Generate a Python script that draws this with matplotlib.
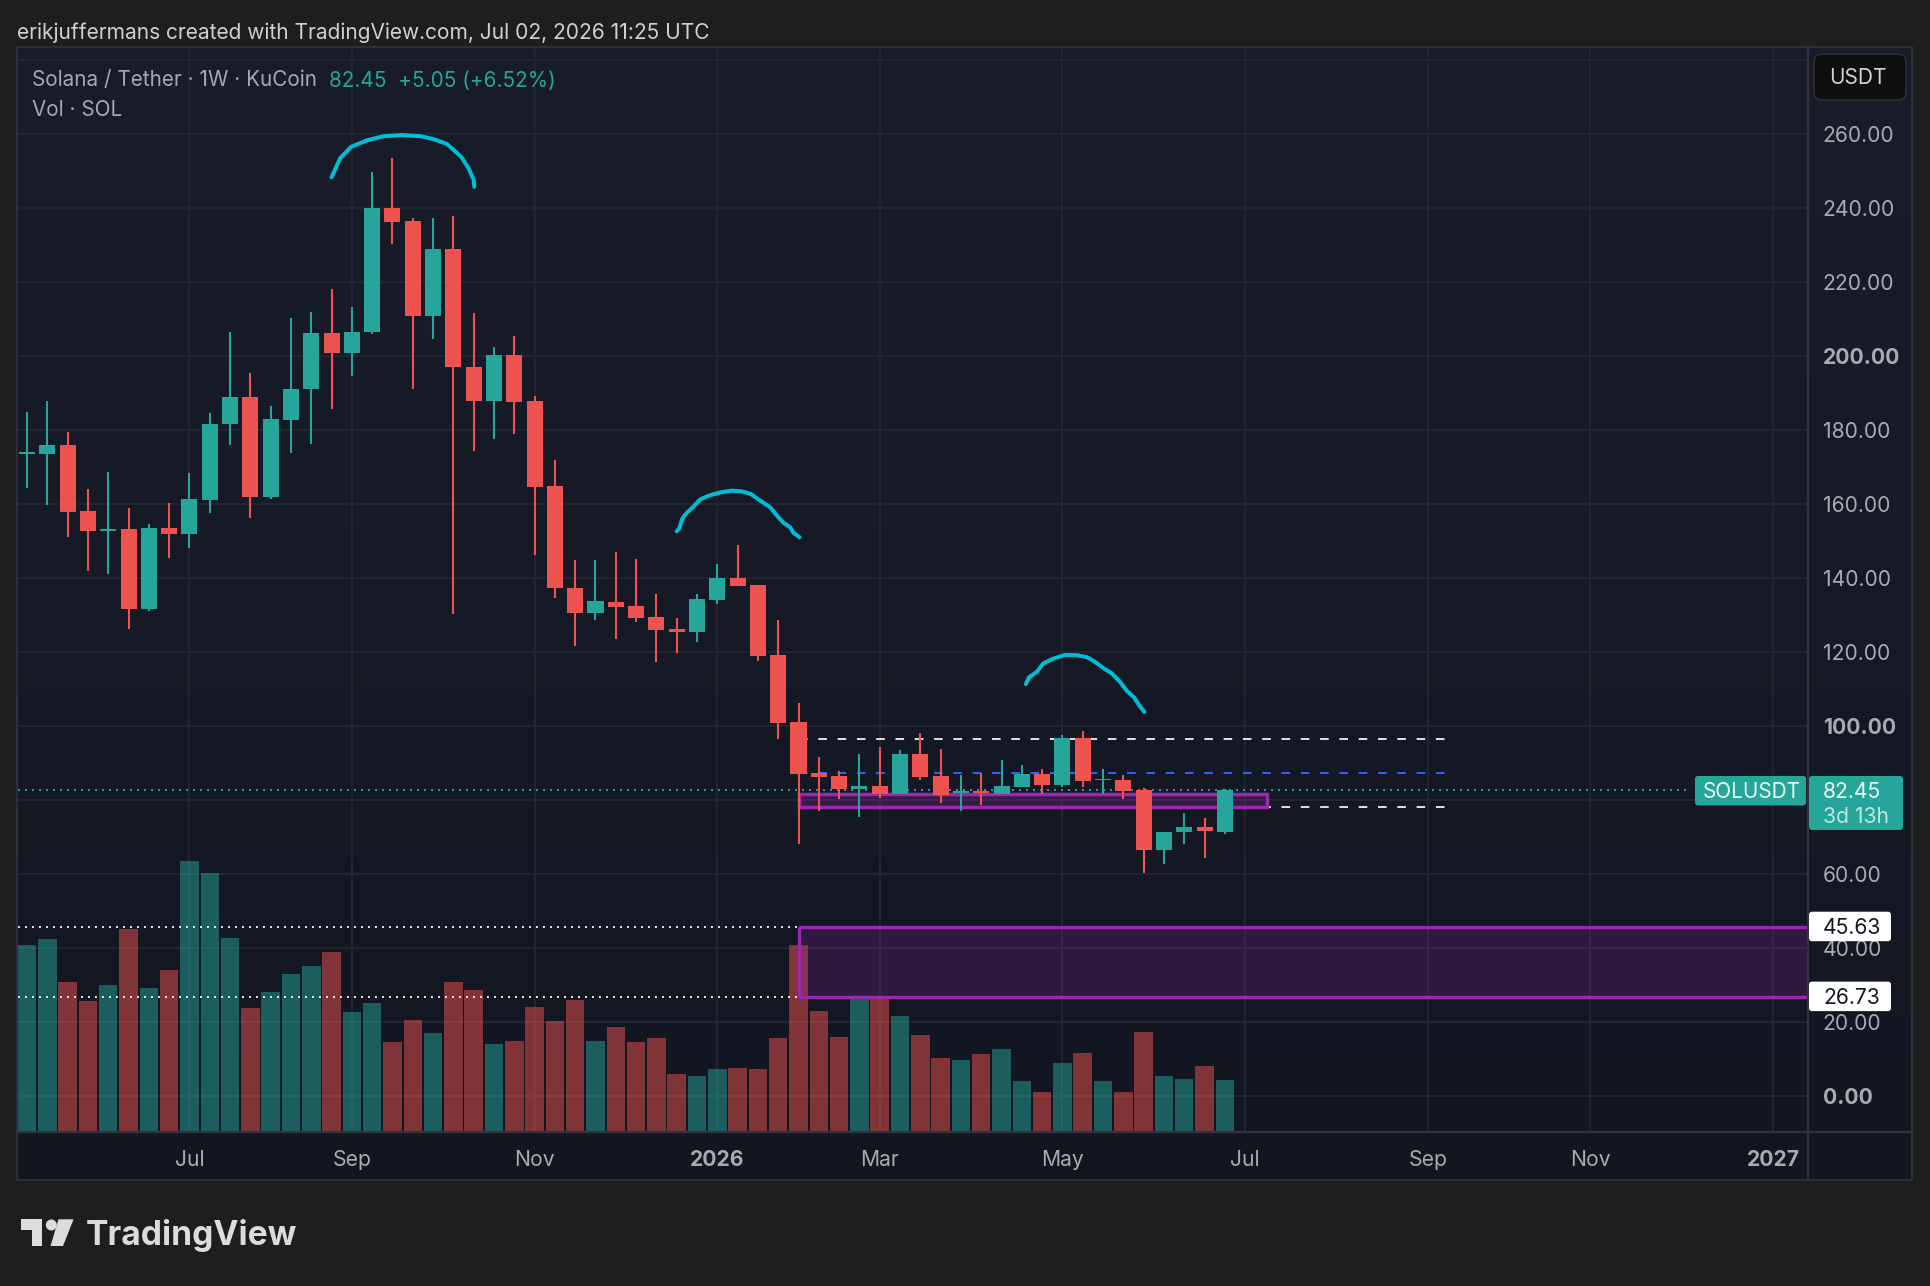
import numpy as np
import matplotlib
matplotlib.use('Agg')
import matplotlib.pyplot as plt
from matplotlib.patches import Rectangle, FancyBboxPatch, Polygon, Circle

plt.rcParams['font.family'] = ['Inter', 'DejaVu Sans']

# weekly SOL/USDT candles
opens = [173.3, 173.4, 175.8, 157.9, 152.5, 153.0, 131.6, 153.3, 151.8, 161.0,
         181.5, 188.7, 161.9, 182.6, 190.9, 206.0, 200.6, 206.3, 239.9, 236.3,
         210.8, 228.7, 196.9, 187.8, 200.1, 187.7, 164.7, 137.2, 130.5, 133.4,
         132.2, 129.4, 126.1, 125.2, 134.0, 139.8, 137.9, 119.0, 100.9, 87.2,
         86.3, 82.8, 83.6, 81.6, 92.4, 86.3, 81.8, 82.2, 81.6, 83.4,
         86.9, 83.9, 96.5, 85.2, 85.3, 82.5, 66.4, 71.1, 72.5, 71.3]
highs = [184.8, 187.7, 179.3, 163.8, 168.5, 158.7, 154.6, 160.1, 168.2, 184.6,
         206.4, 195.2, 186.4, 210.1, 211.8, 218.1, 213.0, 249.5, 253.3, 237.1,
         237.2, 237.7, 211.4, 202.4, 205.3, 189.1, 171.9, 144.7, 144.7, 146.9,
         145.0, 135.5, 129.0, 135.5, 143.6, 148.8, 137.9, 128.4, 106.2, 91.4,
         87.8, 92.4, 94.1, 93.4, 97.9, 93.6, 86.6, 87.1, 90.7, 89.2,
         88.2, 97.4, 98.6, 88.2, 86.7, 83.1, 71.3, 76.3, 75.1, 82.9]
lows = [164.1, 159.6, 150.9, 141.8, 140.9, 126.2, 130.9, 145.2, 148.1, 157.5,
        175.7, 156.0, 161.3, 173.6, 176.0, 185.6, 194.5, 205.8, 230.2, 190.9,
        204.4, 130.2, 174.3, 177.4, 178.8, 146.1, 134.6, 121.6, 128.5, 123.3,
        128.1, 117.2, 119.5, 122.6, 132.8, 137.8, 117.4, 96.4, 67.9, 76.9,
        80.1, 75.2, 80.5, 81.6, 85.4, 79.1, 76.9, 78.4, 81.6, 83.4,
        81.6, 83.5, 83.5, 81.6, 80.2, 60.2, 62.6, 68.1, 64.3, 70.6]
closes = [173.8, 175.8, 157.7, 152.5, 153.0, 131.6, 153.3, 151.8, 161.1, 181.6,
          188.7, 161.9, 182.8, 191.0, 206.0, 200.6, 206.4, 239.9, 236.2, 210.8,
          228.7, 196.8, 187.8, 200.1, 187.5, 164.5, 137.1, 130.5, 133.6, 132.1,
          129.2, 125.9, 125.2, 134.1, 139.8, 137.8, 118.8, 100.8, 87.0, 86.1,
          82.8, 83.6, 81.6, 92.4, 86.1, 81.3, 82.2, 81.8, 83.6, 86.9,
          83.9, 96.5, 85.1, 85.5, 82.4, 66.4, 71.3, 72.5, 71.4, 82.45]
volumes = [50.5, 52.2, 40.5, 35.3, 39.8, 54.8, 38.8, 43.9, 73.2, 70.1,
           52.4, 33.4, 37.8, 42.7, 44.8, 48.6, 32.3, 34.9, 24.2, 30.4,
           26.8, 40.5, 38.4, 23.7, 24.7, 33.7, 29.9, 35.6, 24.7, 28.5,
           24.2, 25.4, 15.7, 15.2, 16.9, 17.4, 17.1, 25.4, 50.5, 32.7,
           25.6, 36.5, 35.9, 31.4, 26.1, 19.9, 19.5, 21.2, 22.5, 13.8,
           10.9, 18.6, 21.4, 13.8, 10.7, 26.9, 15.2, 14.2, 17.8, 14.0]

# month labels along the time axis, as bar numbers
month_bars = [8, 16, 25, 34, 42, 51, 60, 69, 77, 86]
month_labels = ['Jul', 'Sep', 'Nov', '2026', 'Mar', 'May', 'Jul', 'Sep', 'Nov', '2027']
price_ticks = [0, 20, 40, 60, 80, 100, 120, 140, 160, 180, 200, 220, 240, 260, 280]
price_labels = ['0.00', '20.00', '40.00', '60.00', '', '100.00', '120.00', '140.00',
                '160.00', '180.00', '200.00', '220.00', '240.00', '260.00', '']
bold_prices = ['0.00', '100.00', '200.00']

last_price = 82.45
zone_top = 45.63
zone_bottom = 26.73
band_top = 81.4
band_bottom = 78.1
zone_start = 38.0
band_end = 61.1
dash_end = 69.9
dash_white_high = 96.4
dash_white_low = 78.1
dash_blue = 87.2

# hand drawn arcs over the three tops
arc1_x = [15.0, 15.2, 15.42, 15.96, 16.76, 17.57, 18.47, 19.38, 20.08, 20.68, 21.39, 21.75, 22.0, 22.03]
arc1_y = [248.2, 250.6, 253.3, 256.4, 258.2, 259.3, 259.6, 259.3, 258.4, 257.2, 253.7, 250.6, 247.5, 245.6]
arc2_x = [32.0, 32.13, 32.28, 32.5, 32.82, 33.15, 33.56, 34.14, 34.71, 35.21, 35.65, 36.03, 36.6, 37.01, 37.26, 37.59, 37.75, 38.05]
arc2_y = [152.5, 153.3, 156.0, 157.5, 159.1, 161.1, 162.1, 163.0, 163.5, 163.3, 162.6, 161.1, 159.0, 156.3, 154.8, 153.6, 152.1, 150.9]
arc3_x = [49.2, 49.35, 49.74, 50.06, 50.56, 51.13, 51.71, 52.2, 52.61, 53.02, 53.43, 53.84, 54.17, 54.53, 54.83, 55.04]
arc3_y = [111.2, 113.0, 114.5, 116.8, 118.1, 119.1, 119.0, 118.5, 117.2, 115.5, 114.1, 111.8, 109.4, 107.6, 105.1, 103.7]

GREEN = '#26a69a'
RED = '#ef5350'
PURPLE = '#9c27b0'
GRID = '#21252f'
FRAME = '#2c2f38'
LABEL = '#a9abb3'

W, H = 1930, 1286
fig = plt.figure(figsize=(W / 100, H / 100), dpi=100, facecolor='#1e1e1e')

# panel background fades slightly from top to bottom
bg = fig.add_axes([17 / W, 1 - 1180 / H, (1912 - 17) / W, (1180 - 47) / H])
shade = np.linspace(0, 1, 256).reshape(-1, 1, 1)
c_top = np.array([0x19, 0x1d, 0x2a]) / 255
c_bot = np.array([0x12, 0x16, 0x21]) / 255
bg.imshow(c_top + (c_bot - c_top) * shade, aspect='auto')
bg.axis('off')

ax = fig.add_axes([17.5 / W, 1 - 1132 / H, (1807.5 - 17.5) / W, (1132 - 47) / H])
ax.patch.set_visible(False)
y_floor = -9.86
ax.set_xlim(-0.47, 87.7)
ax.set_ylim(y_floor, 283.4)
ax.set_xticks(month_bars)
ax.set_xticklabels(month_labels, fontsize=15.2, color=LABEL)
ax.yaxis.tick_right()
ax.set_yticks(price_ticks)
ax.set_yticklabels(price_labels, fontsize=15.2, color=LABEL)
ax.tick_params(length=0)
ax.tick_params(axis='x', pad=13)
ax.tick_params(axis='y', pad=11)
for t in ax.get_xticklabels():
    if t.get_text() in ('2026', '2027'):
        t.set_fontweight('bold')
for t in ax.get_yticklabels():
    if t.get_text() in bold_prices:
        t.set_fontweight('bold')
ax.grid(True, color=GRID, lw=1.5, zorder=0)
ax.set_axisbelow(True)
for s in ax.spines.values():
    s.set_visible(False)

bars = np.arange(len(closes))
o = np.array(opens)
c = np.array(closes)
up = c >= o
colors = [GREEN if u else RED for u in up]

# volume pane shares the price scale, sitting on the bottom edge
ax.bar(bars, volumes, width=0.91, bottom=y_floor, color=colors, alpha=0.5, lw=0, zorder=1)

# lower zone and its guide lines out to the left
ax.add_patch(Rectangle((zone_start, zone_bottom), 60, zone_top - zone_bottom, fc=PURPLE, ec='none',
                       alpha=0.2, zorder=2))
ax.hlines([zone_top, zone_bottom], zone_start, 150, color=PURPLE, lw=2.4, zorder=2.2)
ax.vlines(zone_start, zone_bottom, zone_top, color=PURPLE, lw=2.4, zorder=2.2)
ax.hlines([zone_top, zone_bottom], -0.47, zone_start, color='#e8e8e8', lw=1.4,
          linestyles=[(0, (1, 2.6))], zorder=2.1)

ax.axhline(last_price, color=GREEN, lw=1.4, ls=(0, (1, 2.6)), zorder=2.3, xmax=(1690 - 17.5) / (1807.5 - 17.5))

# dashed range levels
dash = (0, (4.3, 5.35))
ax.hlines([dash_white_high, dash_white_low], zone_start, dash_end, color='#dcdcdc', lw=1.44, linestyles=[dash], zorder=2.4)
ax.hlines(dash_blue, zone_start, dash_end, color='#2962ff', lw=1.44, linestyles=[dash], zorder=2.4)

# thin support band
ax.add_patch(Rectangle((zone_start, band_bottom), band_end - zone_start, band_top - band_bottom,
                       fc=PURPLE, ec='none', alpha=0.25, zorder=2.5))
ax.add_patch(Rectangle((zone_start, band_bottom), band_end - zone_start, band_top - band_bottom,
                       fc='none', ec=PURPLE, lw=2.5, zorder=2.6))

# candles
ax.vlines(bars, lows, highs, colors=colors, lw=1.5, zorder=3)
ax.bar(bars, np.abs(c - o), width=0.79, bottom=np.minimum(o, c), color=colors, lw=0, zorder=3.1)

for xs, ys in ((arc1_x, arc1_y), (arc2_x, arc2_y), (arc3_x, arc3_y)):
    ax.plot(xs, ys, color='#00bcd4', lw=2.9, solid_capstyle='round', solid_joinstyle='round', zorder=4)

# panel furniture drawn in figure pixels
ov = fig.add_axes([0, 0, 1, 1])
ov.set_xlim(0, W)
ov.set_ylim(H, 0)
ov.axis('off')
ov.patch.set_visible(False)


def price_y(p):
    return H - ax.transData.transform((0, p))[1]


ov.add_patch(Rectangle((17, 47), 1895, 1133, fc='none', ec=FRAME, lw=1.5))
ov.plot([1807.5, 1807.5], [47, 1180], color='#31343f', lw=1.6)
ov.plot([17, 1912], [1132, 1132], color='#31343f', lw=1.6)


def rbox(x0, y0, x1, y1, fc, ec='none', r=3):
    ov.add_patch(FancyBboxPatch((x0 + r, y0 + r), x1 - x0 - 2 * r, y1 - y0 - 2 * r, boxstyle=f'round,pad={r},rounding_size={r}',
                                fc=fc, ec=ec, lw=1, zorder=5, mutation_aspect=1))


ov.text(17, 33, 'erikjuffermans created with TradingView.com, Jul 02, 2026 11:25 UTC',
        color='#d0d0d0', fontsize=15.05, va='center', ha='left')
ov.text(32, 80.5, 'Solana / Tether · 1W · KuCoin', color='#a6a8b0', fontsize=14.9, va='center', ha='left')
ov.text(329, 80.5, f'{last_price:.2f}  +5.05 (+6.52%)', color=GREEN, fontsize=14.9, va='center', ha='left')
ov.text(32, 110, 'Vol · SOL', color='#a6a8b0', fontsize=14.9, va='center', ha='left')

# currency button
rbox(1814, 54, 1906, 100, '#0f0f0f', ec='#30323a', r=8)
ov.text(1858, 78, 'USDT', color='#d4d4d4', fontsize=15.0, va='center', ha='center', zorder=6)

# last price tags
y_last = price_y(last_price)
rbox(1695, y_last - 14.5, 1806, y_last + 15, GREEN)
rbox(1809, y_last - 14.5, 1903, y_last + 39.5, GREEN)
ov.text(1702.5, y_last + 2, 'SOLUSDT', color='#eafaf7', fontsize=14.9, va='center', ha='left', zorder=6)
ov.text(1823, y_last + 2, f'{last_price:.2f}', color='#eafaf7', fontsize=15.2, va='center', ha='left', zorder=6)
ov.text(1823, y_last + 27, '3d 13h', color='#bfe6e0', fontsize=15.2, va='center', ha='left', zorder=6)

# zone price tags
for p in (zone_top, zone_bottom):
    y_p = price_y(p)
    rbox(1809, y_p - 15, 1891, y_p + 14.5, '#ffffff')
    ov.text(1823, y_p + 1, f'{p:.2f}', color='#131722', fontsize=15.2, va='center', ha='left', zorder=6)

# logo mark and wordmark
LOGO = '#dcdcdc'
ov.add_patch(Polygon([(21, 1219.3), (42, 1219.3), (42, 1246), (31.5, 1246), (31.5, 1230), (21, 1230)], fc=LOGO, ec='none'))
ov.add_patch(Circle((51.3, 1225), 5.5, fc=LOGO, ec='none'))
ov.add_patch(Polygon([(58.5, 1219.3), (73.6, 1219.3), (63, 1246), (50.5, 1246)], fc=LOGO, ec='none'))
ov.text(86, 1235, 'TradingView', color=LOGO, fontsize=24.2, fontweight='bold', va='center', ha='left')

fig.savefig('out.png', dpi=100, facecolor=fig.get_facecolor())
